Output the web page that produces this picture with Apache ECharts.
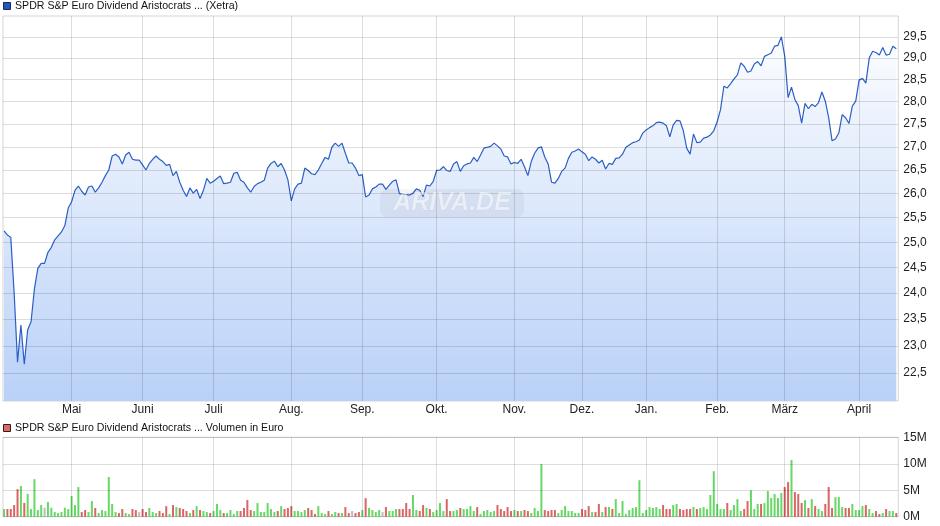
<!DOCTYPE html>
<html><head><meta charset="utf-8">
<script src="https://cdn.jsdelivr.net/npm/echarts@6/dist/echarts.min.js"></script>
<style>html,body{margin:0;padding:0;background:#fff}#c{width:940px;height:526px}</style>
</head><body><div id="c"></div>
<script>
// ---------- data ----------
const titlePrice = 'SPDR S&P Euro Dividend Aristocrats ... (Xetra)';
const titleVolume = 'SPDR S&P Euro Dividend Aristocrats ... Volumen in Euro';
const firstDay = '2025-04-01';
const holidays = ['2025-04-18','2025-04-21','2025-05-01','2025-12-24','2025-12-25','2025-12-26','2025-12-31','2026-01-01','2026-04-03','2026-04-06'];
const monthNames = ['Jan.','Feb.','März','April','Mai','Juni','Juli','Aug.','Sep.','Okt.','Nov.','Dez.'];
const priceTicks = [22.5,23.0,23.5,24.0,24.5,25.0,25.5,26.0,26.5,27.0,27.5,28.0,28.5,29.0,29.5];
const priceMin = 22, priceMax = 30;
const volumeTicks = [0,5,10,15];

const prices = [
25.23,25.15,25.10,24.00,22.70,23.39,22.66,23.30,23.45,24.08,
24.48,24.58,24.58,24.80,24.90,25.05,25.13,25.21,25.34,25.70,
25.83,26.07,26.16,26.05,25.97,26.14,26.16,26.03,26.12,26.24,
26.38,26.50,26.80,26.84,26.78,26.63,26.82,26.88,26.73,26.71,
26.71,26.61,26.50,26.64,26.73,26.80,26.73,26.68,26.60,26.62,
26.38,26.47,26.24,26.07,25.94,26.12,26.01,26.09,25.90,26.07,
26.32,26.22,26.26,26.32,26.37,26.21,26.22,26.24,26.43,26.45,
26.28,26.24,26.12,26.03,26.15,26.21,26.24,26.28,26.54,26.64,
26.69,26.57,26.64,26.50,26.29,25.85,26.10,26.20,26.22,26.54,
26.49,26.42,26.40,26.50,26.64,26.77,26.73,26.99,27.08,27.01,
27.08,26.86,26.65,26.65,26.54,26.38,26.40,25.93,25.97,26.10,
26.14,26.20,26.20,26.09,26.18,26.26,26.29,26.00,25.99,25.98,
25.97,26.01,26.10,26.07,25.94,26.18,26.16,26.26,26.49,26.50,
26.57,26.49,26.47,26.63,26.68,26.47,26.59,26.63,26.65,26.77,
26.68,26.82,26.97,26.99,27.01,27.08,27.02,26.95,26.80,26.78,
26.63,26.66,26.64,26.73,26.57,26.38,26.68,26.86,26.97,27.00,
26.78,26.63,26.24,26.22,26.32,26.47,26.54,26.75,26.88,26.91,
26.95,26.89,26.84,26.70,26.78,26.73,26.65,26.71,26.52,26.64,
26.62,26.75,26.76,26.84,26.99,27.04,27.09,27.11,27.15,27.30,
27.37,27.42,27.46,27.53,27.54,27.52,27.46,27.22,27.48,27.58,
27.57,27.35,26.97,26.84,27.28,27.09,27.10,27.19,27.21,27.26,
27.35,27.55,27.82,28.35,28.31,28.41,28.52,28.61,28.89,28.81,
28.67,28.70,28.86,28.92,28.82,29.04,29.08,29.12,29.28,29.30,
29.50,29.04,28.09,28.33,28.05,27.91,27.52,27.96,27.84,27.94,
27.89,27.98,28.22,28.01,27.64,27.13,27.17,27.30,27.71,27.64,
27.51,27.90,28.01,28.49,28.53,28.42,29.00,29.16,29.13,29.07,
29.25,29.07,29.09,29.28,29.22
];

// volume in millions of euro
const volumesM = [
1.45,1.45,1.45,2.2,5.2,5.8,2.6,4.3,1.45,7.1,
1.26,2.2,1.7,2.77,1.7,0.88,0.69,0.88,1.7,1.45,
3.9,2.2,5.6,0.88,1.26,0.88,2.96,1.64,0.69,1.26,
1.07,7.5,2.4,0.88,0.69,1.45,0.69,0.5,1.45,1.26,
0.88,1.45,0.88,1.64,0.88,0.69,1.07,0.69,2.0,0.5,
2.2,1.82,1.64,1.45,1.07,0.69,1.26,2.0,1.26,1.07,
0.88,0.69,1.07,2.4,1.26,0.69,0.69,1.26,0.5,1.07,
1.07,1.64,3.14,1.26,1.07,2.58,0.88,0.88,2.58,1.45,
0.88,1.07,2.0,1.45,1.64,2.0,1.07,1.07,0.88,1.26,
1.64,1.26,0.5,2.0,0.69,0.5,1.07,0.5,0.88,0.69,
0.69,1.82,0.69,1.07,0.69,0.88,1.26,3.5,1.64,1.26,
0.88,1.26,0.88,1.82,1.07,1.07,1.45,1.45,1.45,2.58,
1.45,4.1,1.26,1.07,2.2,1.64,1.45,0.88,1.26,2.58,
1.07,3.33,1.07,1.07,1.26,1.64,1.45,1.45,2.0,1.07,
1.82,0.5,1.07,1.26,0.88,1.07,2.2,1.45,1.07,1.82,
1.07,1.26,1.07,1.07,1.26,1.07,0.69,1.64,1.07,9.94,
1.26,1.07,1.26,1.26,0.69,1.26,2.0,1.07,1.07,0.69,
0.69,1.45,1.26,2.0,0.88,0.88,2.4,0.88,1.82,1.82,
1.45,3.33,0.69,2.96,0.5,1.26,1.64,1.82,6.9,0.69,
1.26,1.82,1.64,1.82,1.45,2.2,1.45,1.45,2.2,2.4,
1.45,1.26,1.45,1.45,1.82,1.45,1.64,1.82,1.45,4.1,
8.6,2.4,1.45,1.45,2.58,1.26,2.2,3.33,1.07,1.45,
2.96,5.0,1.45,2.4,2.4,2.58,4.84,3.52,4.28,3.52,
4.47,5.6,6.54,10.7,4.65,4.28,2.58,3.14,1.64,3.33,
2.0,1.45,1.07,2.4,5.6,1.64,3.7,3.7,1.82,1.64,
1.64,2.4,1.26,1.26,2.0,2.2,1.45,0.69,1.07,0.5,
0.69,1.45,1.07,1.07,0.69
];

// ---------- trading calendar ----------
const dates = [];
{
  const d = new Date(firstDay + 'T00:00:00Z');
  while (dates.length < prices.length) {
    const wd = d.getUTCDay();
    const s = d.toISOString().slice(0, 10);
    if (wd !== 0 && wd !== 6 && holidays.indexOf(s) < 0) dates.push(s);
    d.setUTCDate(d.getUTCDate() + 1);
  }
}
const monthStarts = [];
for (let i = 1; i < dates.length; i++) {
  if (dates[i].slice(5, 7) !== dates[i - 1].slice(5, 7)) monthStarts.push(i);
}
const monthLabel = v => monthNames[parseInt(dates[Math.round(v)].slice(5, 7), 10) - 1];

const FONT = 'Liberation Sans, Arial, sans-serif';
const GRID_COLOR = 'rgba(0,0,0,0.13)';
const UP = '#66d866', DOWN = '#d96565', FLAT = '#bdbdbd';
function dirColor(i) {
  if (i === 0) return UP;
  const diff = prices[i] - prices[i - 1];
  if (Math.abs(diff) < 1e-9) return FLAT;
  return diff > 0 ? UP : DOWN;
}

const xCommon = {
  type: 'value',
  min: -0.3,
  max: dates.length - 0.4,
  z: 3,
  axisLine: { show: false },
  axisTick: { show: false, customValues: monthStarts },
  splitLine: { show: true, lineStyle: { color: GRID_COLOR, width: 1 } }
};

const chart = echarts.init(document.getElementById('c'), null, { renderer: 'canvas' });
chart.setOption({
  animation: false,
  backgroundColor: '#ffffff',
  textStyle: { fontFamily: FONT },
  grid: [
    { left: 3, right: 41.7, top: 16, height: 385, show: true, borderColor: 'rgba(0,0,0,0.17)', borderWidth: 1, backgroundColor: 'transparent' },
    { left: 3, right: 41.7, top: 437.3, height: 79.4, show: true, borderColor: 'rgba(0,0,0,0.17)', borderWidth: 1, backgroundColor: 'transparent' }
  ],
  xAxis: [
    Object.assign({}, xCommon, {
      gridIndex: 0,
      axisLabel: { show: true, customValues: monthStarts, formatter: monthLabel, color: '#222', fontSize: 12, fontFamily: FONT, margin: 3 }
    }),
    Object.assign({}, xCommon, {
      gridIndex: 1,
      axisLabel: { show: false }
    })
  ],
  yAxis: [
    {
      type: 'value', gridIndex: 0, position: 'right', z: 3,
      min: Math.log(priceMin), max: Math.log(priceMax),
      axisLine: { show: false },
      axisTick: { show: false, customValues: priceTicks.map(Math.log) },
      axisLabel: {
        customValues: priceTicks.map(Math.log),
        formatter: v => Math.exp(v).toFixed(1).replace('.', ','),
        color: '#222', fontSize: 12, fontFamily: FONT, margin: 5
      },
      splitLine: { show: true, lineStyle: { color: GRID_COLOR, width: 1 } }
    },
    {
      type: 'value', gridIndex: 1, position: 'right', z: 3,
      min: 0, max: 15,
      axisLine: { show: false },
      axisTick: { show: false, customValues: volumeTicks },
      axisLabel: {
        customValues: volumeTicks,
        formatter: v => v + 'M',
        color: '#222', fontSize: 12, fontFamily: FONT, margin: 5
      },
      splitLine: { show: true, lineStyle: { color: GRID_COLOR, width: 1 } }
    }
  ],
  series: [
    {
      type: 'line', xAxisIndex: 0, yAxisIndex: 0,
      data: prices.map((p, i) => [i, Math.log(p)]),
      showSymbol: false, symbol: 'none', smooth: false,
      lineStyle: { color: '#2b5fc6', width: 1.2 },
      areaStyle: {
        color: {
          type: 'linear', x: 0, y: 16, x2: 0, y2: 401, global: true,
          colorStops: [{ offset: 0, color: '#ffffff' }, { offset: 1, color: '#b9d1f8' }]
        },
        opacity: 1
      },
      z: 2
    },
    {
      type: 'bar', xAxisIndex: 1, yAxisIndex: 1,
      data: volumesM.map((v, i) => [i, v]),
      barWidth: 2,
      itemStyle: { color: p => dirColor(p.dataIndex) },
      z: 2
    }
  ],
  graphic: [
    { type: 'rect', shape: { x: 3.5, y: 2.5, width: 7, height: 7 }, style: { fill: '#2157c0', stroke: '#1b2a48', lineWidth: 1 } },
    { type: 'text', x: 15, y: 6.5, style: { text: titlePrice, font: '10.6px ' + FONT, fill: '#111', verticalAlign: 'middle' } },
    { type: 'rect', shape: { x: 3.5, y: 424.5, width: 7, height: 7 }, style: { fill: '#d86a6a', stroke: '#3a1a1a', lineWidth: 1 } },
    { type: 'text', x: 15, y: 428.5, style: { text: titleVolume, font: '10.6px ' + FONT, fill: '#111', verticalAlign: 'middle' } },
    { type: 'rect', z: 10, shape: { x: 380, y: 189, width: 144, height: 28, r: 7 }, style: { fill: 'rgba(0,0,0,0.04)' } },
    { type: 'text', z: 11, x: 452, y: 203, style: { text: 'ARIVA.DE', font: 'italic bold 25px ' + FONT, fill: 'rgba(255,255,255,0.5)', stroke: 'rgba(0,0,0,0.04)', lineWidth: 1, align: 'center', verticalAlign: 'middle' } }
  ]
});
</script>
</body></html>
